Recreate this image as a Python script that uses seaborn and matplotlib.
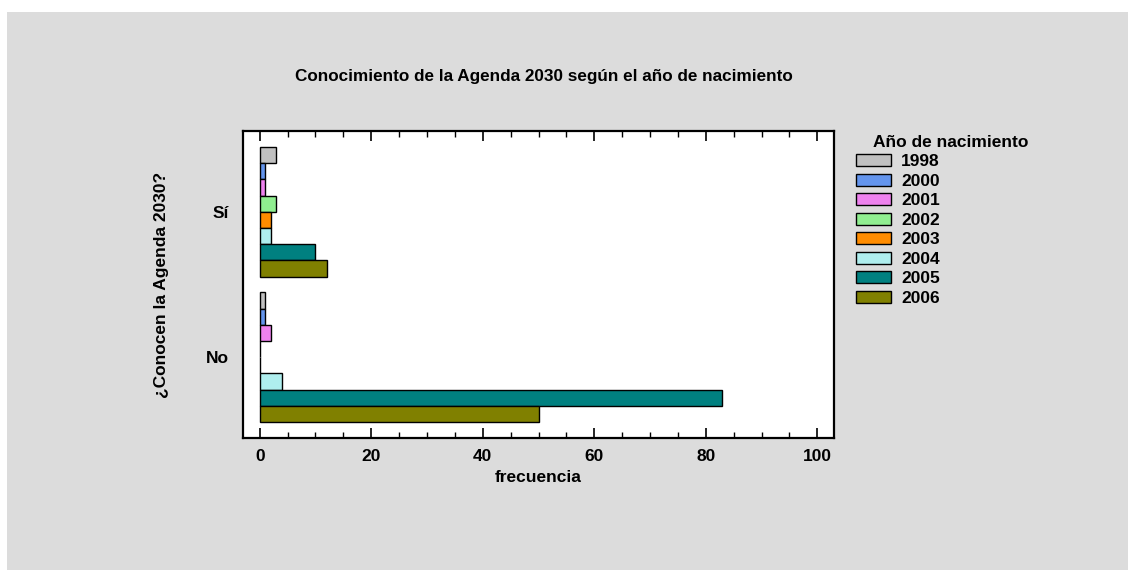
import pandas as pd
import numpy as np
import matplotlib
matplotlib.use('Agg')
import matplotlib.pyplot as plt
import seaborn as sns
from matplotlib.patches import Rectangle
from matplotlib.ticker import MultipleLocator

# data
respuestas = ['Sí', 'No']
anios = ['1998', '2000', '2001', '2002', '2003', '2004', '2005', '2006']
freq_si = [3, 1, 1, 3, 2, 2, 10, 12]
freq_no = [1, 1, 2, 0, 0, 4, 83, 50]
colores = ['#C0C0C0', '#6495ED', '#EE82EE', '#90EE90', '#FF8C00', '#AFEEEE', '#008080', '#808000']

df = pd.DataFrame({
    'respuesta': ['Sí'] * len(anios) + ['No'] * len(anios),
    'anio': anios + anios,
    'frecuencia': freq_si + freq_no,
})

sns.set_style('white')
plt.rcParams['font.family'] = ['Liberation Sans', 'DejaVu Sans']
plt.rcParams['font.weight'] = 'bold'
for k in ['text.color', 'axes.labelcolor', 'xtick.color', 'ytick.color']:
    plt.rcParams[k] = 'black'

fig = plt.figure(figsize=(11.28, 5.70), dpi=100, facecolor='white')
fig.patches.append(Rectangle((7 / 1128, 0), 1, 1 - 12 / 570, transform=fig.transFigure,
                             facecolor='#DCDCDC', edgecolor='none', zorder=-10))
ax = fig.add_axes([243 / 1128, 1 - 438 / 570, 591 / 1128, 307 / 570])

sns.barplot(data=df, y='respuesta', x='frecuencia', hue='anio', order=respuestas,
            hue_order=anios, palette=colores, saturation=1, orient='h', width=0.893,
            edgecolor='black', linewidth=1, ax=ax)

ax.set_xlim(-3, 103)
ax.set_ylim(1.555, -0.555)
ax.xaxis.set_major_locator(MultipleLocator(20))
ax.xaxis.set_minor_locator(MultipleLocator(5))
ax.tick_params(axis='x', which='both', direction='in', top=True, bottom=True, labelsize=12.5)
ax.tick_params(axis='x', which='major', length=7, width=1.2, pad=8)
ax.tick_params(axis='x', which='minor', length=4, width=1.0)
ax.tick_params(axis='y', which='both', length=0, labelsize=12.5, pad=10)
for s in ax.spines.values():
    s.set_linewidth(1.6)
    s.set_color('black')

ax.set_xlabel('frecuencia', fontsize=12.5, fontweight='bold', labelpad=4)
ax.set_ylabel('¿Conocen la Agenda 2030?', fontsize=12.5, fontweight='bold', labelpad=27)
fig.text(544 / 1128, 1 - 77 / 570, 'Conocimiento de la Agenda 2030 según el año de nacimiento',
         ha='center', va='center', fontsize=12.3, fontweight='bold')

leg = ax.legend(title='Año de nacimiento', loc='upper left',
                bbox_to_anchor=(849 / 1128, 1 - 128 / 570), bbox_transform=fig.transFigure,
                frameon=False, fontsize=12.5, title_fontsize=12.5, handlelength=2.0,
                handleheight=0.7, handletextpad=0.6, labelspacing=0.25, borderaxespad=0)
leg._legend_box.align = 'left'
leg.get_title().set_fontweight('bold')
leg.get_title().set_x(17)
for t in leg.get_texts():
    t.set_fontweight('bold')

plt.savefig('out.png', dpi=100, facecolor=fig.get_facecolor())
